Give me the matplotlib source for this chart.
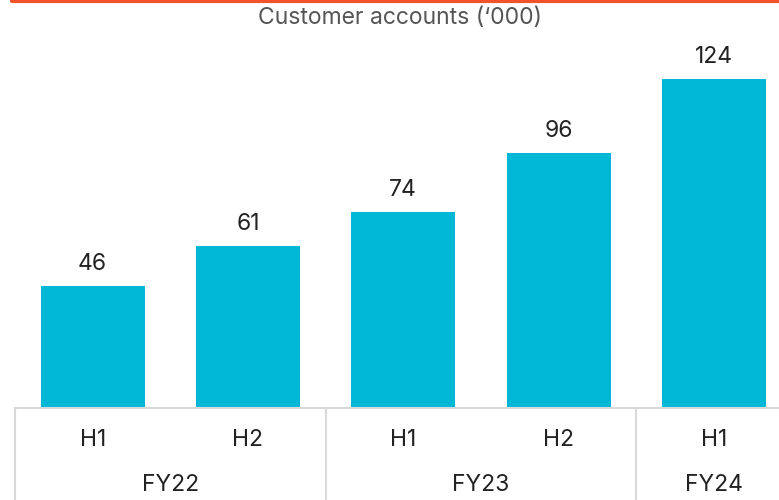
import matplotlib.pyplot as plt
import matplotlib.transforms as mtransforms
from matplotlib.lines import Line2D

# data
halves = ['H1', 'H2', 'H1', 'H2', 'H1']
years = ['FY22', 'FY23', 'FY24']
year_span = [2, 2, 1]  # halves per year
accounts = [46, 61, 74, 96, 124]

bar_color = '#00b8d6'
grid_color = '#d9d9d9'
text_color = '#222222'

plt.rcParams['font.family'] = ['Inter', 'DejaVu Sans']

fig = plt.figure(figsize=(7.79, 5.0), dpi=100)
W, H = 779, 500
# axes from x=15px to right edge, baseline at y=408px, top at y=40px
ax = fig.add_axes([15 / W, (H - 408) / H, (W - 15) / W, (408 - 40) / H])

x = list(range(len(accounts)))
ax.bar(x, accounts, width=0.67, color=bar_color)

for xi, v in zip(x, accounts):
    ax.annotate(str(v), (xi, v), xytext=(0, 8), textcoords='offset points',
                ha='center', va='bottom', fontsize=16.5, color=text_color)

step = 155.3  # px per category
ax.set_xlim(-0.5, -0.5 + (W - 15) / step)
ax.set_ylim(0, 368 / 2.653)

for s in ['top', 'right', 'left']:
    ax.spines[s].set_visible(False)
ax.spines['bottom'].set_color(grid_color)
ax.spines['bottom'].set_linewidth(1.5)
ax.set_xticks([])
ax.set_yticks([])

trans = mtransforms.blended_transform_factory(ax.transData, fig.transFigure)

# half-year labels
for xi, lab in zip(x, halves):
    ax.text(xi, 1 - 440 / H, lab, transform=trans, ha='center', va='center',
            fontsize=16.5, color=text_color)

# year labels and separators
start = 0
seps = [-0.5]
for yr, n in zip(years, year_span):
    center = start + (n - 1) / 2
    ax.text(center, 1 - 485 / H, yr, transform=trans, ha='center', va='center',
            fontsize=16.5, color=text_color)
    start += n
    seps.append(start - 0.5)
for sx in seps[:-1]:
    ax.add_line(Line2D([sx, sx], [0, (H - 408) / H], transform=trans,
                       color=grid_color, lw=1.5, clip_on=False))

# title
fig.text(400 / W, 1 - 18 / H, "Customer accounts (\u2018000)", ha='center', va='center',
         fontsize=16.5, color='#555555')

# orange rule at top
fig.add_artist(Line2D([12 / W, 1.0], [1 - 1 / H, 1 - 1 / H], transform=fig.transFigure,
                      color='#f0522a', lw=3, solid_capstyle='round'))

fig.savefig('out.png', dpi=100)
